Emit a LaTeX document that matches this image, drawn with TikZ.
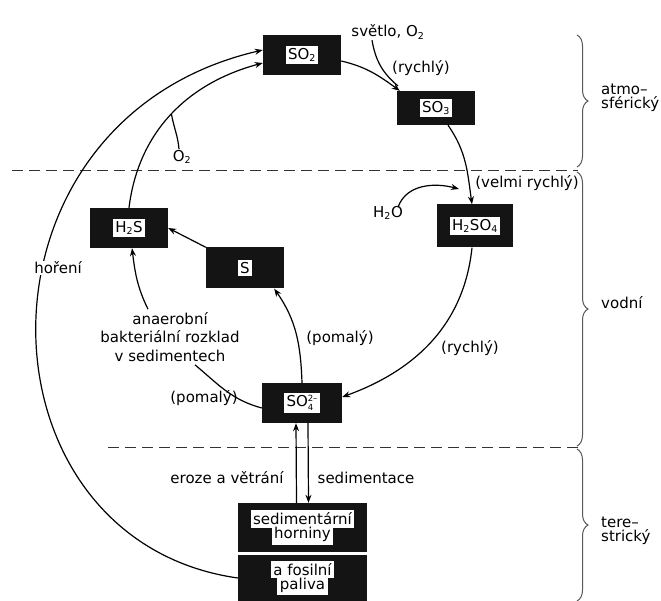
\documentclass[tikz,border=0pt]{standalone}
\usepackage{fontspec}
\setmainfont{DejaVu Sans}
\usetikzlibrary{arrows.meta,decorations.pathreplacing}
\setlength{\fboxsep}{2.5pt}
\newcommand\wb[1]{\colorbox{white}{#1}}
\newcommand\sm[1]{\mbox{\fontsize{9.5}{10}\selectfont #1}}
\newcommand\smstack{\raisebox{-4pt}{\fontsize{8.5}{8.5}\selectfont\shortstack[l]{2–\\4}}}
\begin{document}
\begin{tikzpicture}[x=1pt,y=1pt,
  every node/.style={font=\fontsize{15}{17}\selectfont, inner sep=1pt},
  sbox/.style={fill=black!92, minimum width=78pt, minimum height=40pt, inner sep=0pt, align=center},
  conn/.style={line width=1.2pt, -{Stealth[length=8pt,width=6pt]}},
  plainln/.style={line width=1.2pt},
  sepline/.style={dash pattern=on 11pt off 6pt, line width=0.9pt, black!80},
  br/.style={decorate, decoration={brace, amplitude=11pt}, line width=1pt, black!65}]
\useasboundingbox (0,0) rectangle (661,-601);

% separators
\draw[sepline] (12,-170) -- (578,-170);
\draw[sepline] (108,-447) -- (578,-447);

% braces
\draw[br] (577,-35) -- (577,-167);
\draw[br] (577,-172) -- (577,-446);
\draw[br] (577,-449) -- (577,-601);
\node[anchor=west, align=left, font=\fontsize{15}{14}\selectfont] (atm) at (600,-98) {atmo–\\sférický};
\node[anchor=west] (vod) at (600,-303) {vodní};
\node[anchor=west, align=left, font=\fontsize{15}{14}\selectfont] (ter) at (600,-531) {tere–\\strický};

% boxes
\node[sbox] (so2) at (302,-55) {\wb{SO$_{\sm{2}}$}};
\node[sbox, minimum height=34pt] (so3) at (436,-108) {\wb{SO$_{\sm{3}}$}};
\node[sbox, minimum height=43pt, minimum width=76pt] (h2so4) at (475,-226) {\wb{H$_{\sm{2}}$SO$_{\sm{4}}$}};
\node[sbox] (h2s) at (129,-228) {\wb{H$_{\sm{2}}$S}};
\node[sbox, minimum height=41pt] (s) at (245,-268) {\wb{S}};
\node[sbox, minimum width=80pt] (so4) at (302,-403) {\wb{SO\smstack}};
\node[sbox, minimum width=129pt, minimum height=49pt] (sed) at (302.5,-527.5) {\wb{sedimentární}\\[-3pt]\wb{horniny}};
\node[sbox, minimum width=129pt, minimum height=46pt] (fos) at (302.5,-578) {\wb{a fosilní}\\[-3pt]\wb{paliva}};

% labels
\node (svetlo) at (388,-32) {světlo, O$_{\sm{2}}$};
\node (ry1) at (421,-68) {(rychlý)};
\node (vr) at (527,-183) {(velmi rychlý)};
\node (h2o) at (388,-213) {H$_{\sm{2}}$O};
\node (ry2) at (470,-348) {(rychlý)};
\node (pom1) at (340,-338) {(pomalý)};
\node (pom2) at (204,-398) {(pomalý)};
\node[align=center, font=\fontsize{15}{18.5}\selectfont] (anaer) at (170,-337) {anaerobní\\bakteriální rozklad\\v sedimentech};
\node (o2) at (182,-157) {O$_{\sm{2}}$};
\node (eroze) at (227,-478) {eroze a větrání};
\node (sedim) at (366,-478) {sedimentace};

% connectors
\draw[conn] ([yshift=-6pt]so2.east) to[out=-13,in=144] ([xshift=3pt]so3.north west);
\coordinate (join) at (398,-86);
\draw[plainln] ([xshift=-16pt]svetlo.south) to[out=-80,in=140] (join);
\draw[conn] ([xshift=12pt]so3.south) to[out=-55,in=98] ([xshift=-3pt]h2so4.north);
\coordinate (h2oend) at (459,-189);
\draw[conn] ([xshift=10pt,yshift=-2pt]h2o.north) to[out=70,in=165] (h2oend);
\draw[conn] ([xshift=-3pt]h2so4.south) to[out=-96,in=20] ([yshift=6pt]so4.east);
\draw[conn] (so4.north) to[out=92,in=-55] ([xshift=-10pt]s.south east);
\draw[conn] (s.north west) -- (h2s.east);
\draw[plainln] ([yshift=-5pt]so4.west) to[out=165,in=-40] ([xshift=25pt,yshift=-2pt]anaer.south);
\draw[conn] ([xshift=-22pt,yshift=2pt]anaer.north) to[out=116,in=-83] ([xshift=3pt]h2s.south);
\draw[conn] (h2s.north) to[out=83,in=195] coordinate[pos=0.5] (o2b) ([yshift=-8pt]so2.west);
\draw[plainln] (o2b) to[out=-80,in=95] ([xshift=-3pt]o2.north);
\draw[conn] (fos.west) .. controls (-30,-540) and (-40,-120) .. ([yshift=5pt]so2.west);
\node[fill=white] (hor) at (58,-268) {hoření};
\draw[conn] ([xshift=-6pt]sed.north) -- ([xshift=-6pt]so4.south);
\draw[conn] ([xshift=6pt]so4.south) -- ([xshift=6pt]sed.north);
\end{tikzpicture}
\end{document}
